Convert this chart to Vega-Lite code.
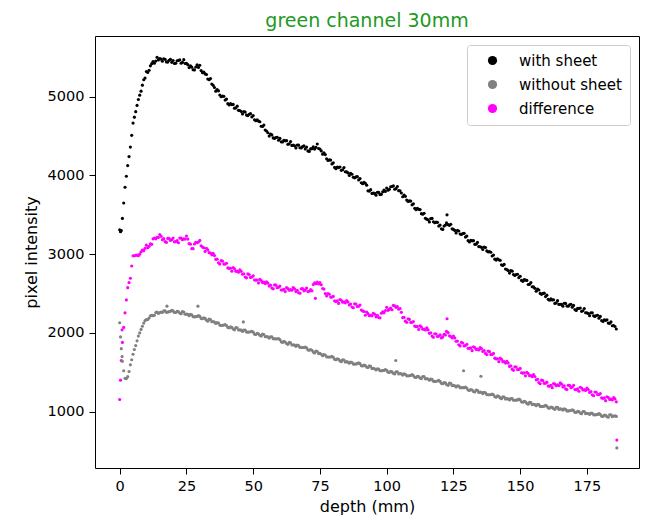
{
  "$schema": "https://vega.github.io/schema/vega-lite/v6.json",
  "autosize": "none",
  "padding": {"left": 95, "top": 36, "right": 7, "bottom": 51},
  "width": 544,
  "height": 432,
  "background": "white",
  "title": {"text": "green channel 30mm", "color": "#229922", "font": "DejaVu Sans", "fontSize": 19, "fontWeight": "normal", "anchor": "middle", "offset": 5},
  "config": {
    "view": {"stroke": "#000000", "strokeWidth": 1},
    "axis": {"domain": false, "grid": false, "tickColor": "#000000", "tickSize": 6, "labelFont": "DejaVu Sans", "labelFontSize": 14.5, "labelColor": "#000000", "titleFont": "DejaVu Sans", "titleFontSize": 16, "titleFontWeight": "normal", "titleColor": "#000000", "labelPadding": 5}
  },
  "data": {"values": [
    {"x":0,"a":3310,"b":2130,"d":1155},
    {"x":0.3,"a":3285,"b":1950,"d":1400},
    {"x":0.6,"a":3300,"b":1800,"d":1650},
    {"x":0.9,"b":1700,"d":2040},
    {"x":1,"a":3455,"b":1640,"d":1880},
    {"x":1.5,"a":3650,"b":1520,"d":2070},
    {"x":2,"a":3850,"b":1425,"d":2255},
    {"x":2.5,"a":3990,"b":1420,"d":2420},
    {"x":3,"a":4125,"b":1445,"d":2575},
    {"x":3.5,"a":4240,"b":1510,"d":2640},
    {"x":4,"a":4360,"b":1595,"d":2695},
    {"x":4.5,"a":4510,"b":1660,"d":2850},
    {"x":5,"a":4665,"b":1730,"d":2980},
    {"x":5.5,"a":4740,"b":1790,"d":2980},
    {"x":6,"a":4810,"b":1840,"d":2985},
    {"x":6.5,"a":4890,"b":1900,"d":2990},
    {"x":7,"a":4965,"b":1960,"d":2980},
    {"x":7.5,"a":5020,"b":2000,"d":3000},
    {"x":8,"a":5070,"b":2045,"d":3030},
    {"x":8.5,"a":5147,"b":2085,"d":3052},
    {"x":9,"a":5215,"b":2125,"d":3045},
    {"x":9.5,"a":5237,"b":2157,"d":3075},
    {"x":10,"a":5320,"b":2170,"d":3115},
    {"x":10.5,"a":5307,"b":2170,"d":3082},
    {"x":11,"a":5335,"b":2190,"d":3100},
    {"x":11.5,"a":5392,"b":2217,"d":3132},
    {"x":12,"a":5420,"b":2225,"d":3125},
    {"x":12.5,"a":5447,"b":2220,"d":3195},
    {"x":13,"a":5425,"b":2225,"d":3205},
    {"x":13.5,"a":5452,"b":2260,"d":3195},
    {"x":14,"a":5500,"b":2265,"d":3215},
    {"x":14.5,"a":5467,"b":2247,"d":3212},
    {"x":15,"a":5485,"b":2260,"d":3250},
    {"x":15.5,"a":5477,"b":2265,"d":3227},
    {"x":16,"a":5450,"b":2260,"d":3185},
    {"x":16.5,"a":5482,"b":2280,"d":3197},
    {"x":17,"a":5475,"b":2280,"d":3160},
    {"x":17.5,"a":5442,"b":2262,"d":3150},
    {"x":17.7,"b":2340},
    {"x":18,"a":5440,"b":2265,"d":3200},
    {"x":18.5,"a":5462,"b":2270,"d":3202},
    {"x":19,"a":5475,"b":2275,"d":3175},
    {"x":19.5,"a":5437,"b":2287,"d":3185},
    {"x":20,"a":5460,"b":2280,"d":3205},
    {"x":20.5,"a":5422,"b":2260,"d":3157},
    {"x":21,"a":5425,"b":2260,"d":3160},
    {"x":21.5,"a":5457,"b":2275,"d":3172},
    {"x":22,"a":5460,"b":2270,"d":3145},
    {"x":22.5,"a":5467,"b":2252,"d":3205},
    {"x":23,"a":5425,"b":2245,"d":3205},
    {"x":23.5,"a":5437,"b":2270,"d":3185},
    {"x":24,"a":5470,"b":2265,"d":3195},
    {"x":24.5,"a":5422,"b":2237,"d":3192},
    {"x":25,"a":5425,"b":2240,"d":3230},
    {"x":25.5,"a":5407,"b":2235,"d":3192},
    {"x":26,"a":5370,"b":2220,"d":3135},
    {"x":26.5,"a":5392,"b":2235,"d":3127},
    {"x":27,"a":5375,"b":2230,"d":3070},
    {"x":27.5,"a":5342,"b":2207,"d":3070},
    {"x":28,"a":5340,"b":2205,"d":3130},
    {"x":28.5,"a":5377,"b":2207,"d":3152},
    {"x":29,"a":5405,"b":2210,"d":3145},
    {"x":29.3,"b":2340},
    {"x":29.5,"a":5372,"b":2220,"d":3155},
    {"x":30,"a":5400,"b":2210,"d":3175},
    {"x":30.5,"a":5332,"b":2185,"d":3107},
    {"x":31,"a":5305,"b":2180,"d":3090},
    {"x":31.5,"a":5312,"b":2192,"d":3082},
    {"x":32,"a":5290,"b":2185,"d":3035},
    {"x":32.5,"a":5282,"b":2162,"d":3075},
    {"x":33,"a":5225,"b":2150,"d":3055},
    {"x":33.5,"a":5217,"b":2175,"d":3020},
    {"x":34,"a":5230,"b":2170,"d":3015},
    {"x":34.5,"a":5162,"b":2142,"d":2992},
    {"x":35,"a":5145,"b":2145,"d":3010},
    {"x":35.5,"a":5117,"b":2137,"d":2982},
    {"x":36,"a":5070,"b":2120,"d":2935},
    {"x":36.5,"a":5092,"b":2132,"d":2937},
    {"x":37,"a":5075,"b":2125,"d":2890},
    {"x":37.5,"a":5022,"b":2100,"d":2875},
    {"x":38,"a":5000,"b":2095,"d":2920},
    {"x":38.5,"a":5007,"b":2097,"d":2912},
    {"x":39,"a":5005,"b":2100,"d":2875},
    {"x":39.5,"a":4957,"b":2107,"d":2875},
    {"x":40,"a":4970,"b":2095,"d":2885},
    {"x":40.5,"a":4912,"b":2070,"d":2827},
    {"x":41,"a":4895,"b":2065,"d":2820},
    {"x":41.5,"a":4912,"b":2077,"d":2822},
    {"x":42,"a":4900,"b":2070,"d":2785},
    {"x":42.5,"a":4902,"b":2050,"d":2830},
    {"x":43,"a":4855,"b":2040,"d":2815},
    {"x":43.5,"a":4857,"b":2067,"d":2785},
    {"x":44,"a":4880,"b":2065,"d":2785},
    {"x":44.5,"a":4827,"b":2037,"d":2772},
    {"x":45,"a":4825,"b":2040,"d":2800},
    {"x":45.5,"a":4812,"b":2035,"d":2782},
    {"x":46,"a":4780,"b":2020,"d":2745},
    {"x":46.3,"b":2140},
    {"x":46.5,"a":4812,"b":2037,"d":2752},
    {"x":47,"a":4805,"b":2035,"d":2710},
    {"x":47.5,"a":4767,"b":2012,"d":2700},
    {"x":48,"a":4760,"b":2010,"d":2750},
    {"x":48.5,"a":4777,"b":2012,"d":2742},
    {"x":49,"a":4785,"b":2015,"d":2705},
    {"x":49.5,"a":4742,"b":2022,"d":2710},
    {"x":50,"a":4760,"b":2010,"d":2725},
    {"x":50.5,"a":4707,"b":1985,"d":2672},
    {"x":51,"a":4695,"b":1980,"d":2670},
    {"x":51.5,"a":4707,"b":1995,"d":2672},
    {"x":52,"a":4690,"b":1990,"d":2635},
    {"x":52.5,"a":4682,"b":1970,"d":2680},
    {"x":53,"a":4625,"b":1960,"d":2665},
    {"x":53.5,"a":4622,"b":1985,"d":2640},
    {"x":54,"a":4640,"b":1980,"d":2645},
    {"x":54.5,"a":4577,"b":1952,"d":2627},
    {"x":55,"a":4565,"b":1955,"d":2650},
    {"x":55.5,"a":4542,"b":1950,"d":2632},
    {"x":56,"a":4500,"b":1935,"d":2595},
    {"x":56.5,"a":4527,"b":1952,"d":2607},
    {"x":57,"a":4515,"b":1950,"d":2570},
    {"x":57.5,"a":4477,"b":1927,"d":2560},
    {"x":58,"a":4470,"b":1925,"d":2610},
    {"x":58.5,"a":4482,"b":1925,"d":2607},
    {"x":59,"a":4485,"b":1925,"d":2575},
    {"x":59.5,"a":4447,"b":1930,"d":2580},
    {"x":60,"a":4470,"b":1915,"d":2595},
    {"x":60.5,"a":4427,"b":1887,"d":2545},
    {"x":61,"a":4425,"b":1880,"d":2545},
    {"x":61.5,"a":4447,"b":1892,"d":2555},
    {"x":62,"a":4440,"b":1885,"d":2525},
    {"x":62.5,"a":4442,"b":1865,"d":2575},
    {"x":63,"a":4395,"b":1855,"d":2565},
    {"x":63.5,"a":4402,"b":1880,"d":2542},
    {"x":64,"a":4430,"b":1875,"d":2550},
    {"x":64.5,"a":4382,"b":1847,"d":2542},
    {"x":65,"a":4385,"b":1850,"d":2575},
    {"x":65.5,"a":4377,"b":1845,"d":2560},
    {"x":66,"a":4350,"b":1830,"d":2525},
    {"x":66.5,"a":4387,"b":1845,"d":2542},
    {"x":67,"a":4385,"b":1840,"d":2510},
    {"x":67.5,"a":4352,"b":1817,"d":2505},
    {"x":68,"a":4350,"b":1815,"d":2560},
    {"x":68.5,"a":4367,"b":1815,"d":2562},
    {"x":69,"a":4375,"b":1815,"d":2535},
    {"x":69.5,"a":4337,"b":1822,"d":2547},
    {"x":70,"a":4360,"b":1810,"d":2570},
    {"x":70.5,"a":4312,"b":1785,"d":2525},
    {"x":71,"a":4305,"b":1780,"d":2530},
    {"x":71.5,"a":4337,"b":1790,"d":2552},
    {"x":72,"a":4340,"b":1780,"d":2535},
    {"x":72.5,"a":4362,"b":1757,"d":2615},
    {"x":73,"a":4335,"b":1745,"d":2635},
    {"x":73.3,"d":2440},
    {"x":73.5,"a":4357,"b":1770,"d":2625},
    {"x":74,"a":4400,"b":1765,"d":2645},
    {"x":74.5,"a":4342,"b":1737,"d":2622},
    {"x":75,"a":4335,"b":1740,"d":2640},
    {"x":75.5,"a":4312,"b":1730,"d":2612},
    {"x":76,"a":4270,"b":1710,"d":2565},
    {"x":76.5,"a":4287,"b":1725,"d":2557},
    {"x":77,"a":4265,"b":1720,"d":2500},
    {"x":77.5,"a":4212,"b":1697,"d":2470},
    {"x":78,"a":4190,"b":1695,"d":2500},
    {"x":78.5,"a":4197,"b":1695,"d":2492},
    {"x":79,"a":4195,"b":1695,"d":2455},
    {"x":79.5,"a":4147,"b":1702,"d":2455},
    {"x":80,"a":4160,"b":1690,"d":2465},
    {"x":80.5,"a":4102,"b":1665,"d":2407},
    {"x":81,"a":4085,"b":1660,"d":2400},
    {"x":81.5,"a":4107,"b":1672,"d":2407},
    {"x":82,"a":4100,"b":1665,"d":2375},
    {"x":82.5,"a":4107,"b":1645,"d":2425},
    {"x":83,"a":4065,"b":1635,"d":2415},
    {"x":83.5,"a":4072,"b":1660,"d":2390},
    {"x":84,"a":4100,"b":1655,"d":2395},
    {"x":84.5,"a":4047,"b":1630,"d":2382},
    {"x":85,"a":4045,"b":1635,"d":2410},
    {"x":85.5,"a":4032,"b":1630,"d":2392},
    {"x":86,"a":4000,"b":1615,"d":2355},
    {"x":86.5,"a":4027,"b":1630,"d":2367},
    {"x":87,"a":4015,"b":1625,"d":2330},
    {"x":87.5,"a":3977,"b":1605,"d":2320},
    {"x":88,"a":3970,"b":1605,"d":2370},
    {"x":88.5,"a":3982,"b":1607,"d":2367},
    {"x":89,"a":3985,"b":1610,"d":2335},
    {"x":89.5,"a":3942,"b":1620,"d":2340},
    {"x":90,"a":3960,"b":1610,"d":2355},
    {"x":90.5,"a":3907,"b":1585,"d":2292},
    {"x":91,"a":3895,"b":1580,"d":2280},
    {"x":91.5,"a":3912,"b":1592,"d":2272},
    {"x":92,"a":3900,"b":1585,"d":2225},
    {"x":92.5,"a":3877,"b":1567,"d":2265},
    {"x":93,"a":3805,"b":1560,"d":2245},
    {"x":93.5,"a":3802,"b":1582,"d":2220},
    {"x":94,"a":3820,"b":1575,"d":2225},
    {"x":94.5,"a":3772,"b":1547,"d":2217},
    {"x":95,"a":3775,"b":1550,"d":2250},
    {"x":95.5,"a":3772,"b":1545,"d":2237},
    {"x":96,"a":3750,"b":1530,"d":2205},
    {"x":96.5,"a":3787,"b":1545,"d":2225},
    {"x":97,"a":3785,"b":1540,"d":2195},
    {"x":97.5,"a":3757,"b":1520,"d":2192},
    {"x":98,"a":3760,"b":1520,"d":2250},
    {"x":98.5,"a":3792,"b":1522,"d":2267},
    {"x":99,"a":3815,"b":1525,"d":2255},
    {"x":99.5,"a":3797,"b":1535,"d":2285},
    {"x":100,"a":3840,"b":1525,"d":2325},
    {"x":100.5,"a":3812,"b":1502,"d":2287},
    {"x":101,"a":3825,"b":1500,"d":2300},
    {"x":101.5,"a":3857,"b":1512,"d":2317},
    {"x":102,"a":3860,"b":1505,"d":2295},
    {"x":102.5,"a":3867,"b":1487,"d":2350},
    {"x":103,"a":3825,"b":1480,"d":2345},
    {"x":103.4,"b":1650},
    {"x":103.5,"a":3832,"b":1507,"d":2325},
    {"x":104,"a":3860,"b":1505,"d":2335},
    {"x":104.5,"a":3807,"b":1480,"d":2302},
    {"x":105,"a":3805,"b":1485,"d":2310},
    {"x":105.5,"a":3777,"b":1480,"d":2262},
    {"x":106,"a":3730,"b":1465,"d":2195},
    {"x":106.5,"a":3752,"b":1480,"d":2197},
    {"x":107,"a":3735,"b":1475,"d":2150},
    {"x":107.5,"a":3687,"b":1455,"d":2135},
    {"x":108,"a":3670,"b":1455,"d":2180},
    {"x":108.5,"a":3677,"b":1457,"d":2172},
    {"x":109,"a":3675,"b":1460,"d":2135},
    {"x":109.5,"a":3627,"b":1470,"d":2135},
    {"x":110,"a":3640,"b":1460,"d":2145},
    {"x":110.5,"a":3582,"b":1437,"d":2087},
    {"x":111,"a":3565,"b":1435,"d":2080},
    {"x":111.5,"a":3582,"b":1450,"d":2082},
    {"x":112,"a":3570,"b":1445,"d":2045},
    {"x":112.5,"a":3567,"b":1427,"d":2090},
    {"x":113,"a":3515,"b":1420,"d":2075},
    {"x":113.5,"a":3507,"b":1447,"d":2047},
    {"x":114,"a":3520,"b":1445,"d":2050},
    {"x":114.5,"a":3457,"b":1417,"d":2037},
    {"x":115,"a":3445,"b":1420,"d":2065},
    {"x":115.5,"a":3437,"b":1415,"d":2040},
    {"x":116,"a":3410,"b":1400,"d":1995},
    {"x":116.5,"a":3452,"b":1415,"d":2002},
    {"x":117,"a":3455,"b":1410,"d":1960},
    {"x":117.5,"a":3412,"b":1387,"d":1945},
    {"x":118,"a":3400,"b":1385,"d":1990},
    {"x":118.5,"a":3407,"b":1387,"d":1987},
    {"x":119,"a":3405,"b":1390,"d":1955},
    {"x":119.5,"a":3357,"b":1397,"d":1960},
    {"x":120,"a":3370,"b":1385,"d":1975},
    {"x":120.5,"a":3322,"b":1360,"d":1937},
    {"x":121,"a":3315,"b":1355,"d":1950},
    {"x":121.5,"a":3357,"b":1370,"d":1982},
    {"x":122,"a":3370,"b":1365,"d":1975},
    {"x":122.4,"a":3397,"b":1345,"d":2020},
    {"x":122.6,"a":3500,"d":2180},
    {"x":123,"a":3375,"b":1335,"d":2005},
    {"x":123.5,"a":3367,"b":1362,"d":1965},
    {"x":124,"a":3380,"b":1360,"d":1955},
    {"x":124.5,"a":3322,"b":1332,"d":1937},
    {"x":125,"a":3315,"b":1335,"d":1960},
    {"x":125.5,"a":3302,"b":1330,"d":1937},
    {"x":126,"a":3270,"b":1315,"d":1895},
    {"x":126.5,"a":3302,"b":1330,"d":1897},
    {"x":127,"a":3295,"b":1325,"d":1850},
    {"x":127.5,"a":3257,"b":1305,"d":1835},
    {"x":128,"a":3250,"b":1305,"d":1880},
    {"x":128.5,"a":3262,"b":1305,"d":1872},
    {"x":128.8,"b":1520},
    {"x":129,"a":3265,"b":1305,"d":1835},
    {"x":129.5,"a":3217,"b":1312,"d":1840},
    {"x":130,"a":3230,"b":1300,"d":1855},
    {"x":130.5,"a":3172,"b":1275,"d":1805},
    {"x":131,"a":3155,"b":1270,"d":1805},
    {"x":131.5,"a":3177,"b":1282,"d":1810},
    {"x":132,"a":3170,"b":1275,"d":1775},
    {"x":132.5,"a":3172,"b":1257,"d":1825},
    {"x":133,"a":3125,"b":1250,"d":1815},
    {"x":133.5,"a":3127,"b":1275,"d":1790},
    {"x":134,"a":3150,"b":1270,"d":1795},
    {"x":134.5,"a":3097,"b":1245,"d":1785},
    {"x":135,"a":3095,"b":1250,"d":1815},
    {"x":135.3,"b":1450},
    {"x":135.5,"a":3087,"b":1245,"d":1800},
    {"x":136,"a":3060,"b":1230,"d":1765},
    {"x":136.5,"a":3092,"b":1245,"d":1777},
    {"x":137,"a":3085,"b":1240,"d":1740},
    {"x":137.5,"a":3042,"b":1217,"d":1725},
    {"x":138,"a":3030,"b":1215,"d":1770},
    {"x":138.5,"a":3032,"b":1215,"d":1762},
    {"x":139,"a":3025,"b":1215,"d":1725},
    {"x":139.5,"a":2977,"b":1225,"d":1727},
    {"x":140,"a":2990,"b":1215,"d":1740},
    {"x":140.5,"a":2937,"b":1190,"d":1680},
    {"x":141,"a":2925,"b":1185,"d":1670},
    {"x":141.5,"a":2942,"b":1200,"d":1672},
    {"x":142,"a":2930,"b":1195,"d":1635},
    {"x":142.5,"a":2922,"b":1175,"d":1680},
    {"x":143,"a":2865,"b":1165,"d":1665},
    {"x":143.5,"a":2857,"b":1190,"d":1635},
    {"x":144,"a":2870,"b":1185,"d":1635},
    {"x":144.5,"a":2812,"b":1160,"d":1617},
    {"x":145,"a":2805,"b":1165,"d":1640},
    {"x":145.5,"a":2792,"b":1162,"d":1617},
    {"x":146,"a":2760,"b":1150,"d":1575},
    {"x":146.5,"a":2792,"b":1167,"d":1582},
    {"x":147,"a":2785,"b":1165,"d":1540},
    {"x":147.5,"a":2742,"b":1145,"d":1525},
    {"x":148,"a":2730,"b":1145,"d":1570},
    {"x":148.5,"a":2742,"b":1147,"d":1567},
    {"x":149,"a":2745,"b":1150,"d":1535},
    {"x":149.5,"a":2702,"b":1160,"d":1537},
    {"x":150,"a":2720,"b":1150,"d":1550},
    {"x":150.5,"a":2667,"b":1125,"d":1495},
    {"x":151,"a":2655,"b":1120,"d":1490},
    {"x":151.5,"a":2677,"b":1132,"d":1492},
    {"x":152,"a":2670,"b":1125,"d":1455},
    {"x":152.5,"a":2667,"b":1105,"d":1500},
    {"x":153,"a":2615,"b":1095,"d":1485},
    {"x":153.5,"a":2617,"b":1120,"d":1457},
    {"x":154,"a":2640,"b":1115,"d":1460},
    {"x":154.5,"a":2587,"b":1090,"d":1445},
    {"x":155,"a":2585,"b":1095,"d":1470},
    {"x":155.5,"a":2567,"b":1090,"d":1447},
    {"x":156,"a":2530,"b":1075,"d":1405},
    {"x":156.5,"a":2557,"b":1092,"d":1412},
    {"x":157,"a":2545,"b":1090,"d":1370},
    {"x":157.5,"a":2502,"b":1067,"d":1355},
    {"x":158,"a":2490,"b":1065,"d":1400},
    {"x":158.5,"a":2502,"b":1067,"d":1395},
    {"x":159,"a":2505,"b":1070,"d":1360},
    {"x":159.5,"a":2462,"b":1080,"d":1362},
    {"x":160,"a":2480,"b":1070,"d":1375},
    {"x":160.5,"a":2427,"b":1047,"d":1325},
    {"x":161,"a":2415,"b":1045,"d":1325},
    {"x":161.5,"a":2432,"b":1060,"d":1335},
    {"x":162,"a":2420,"b":1055,"d":1305},
    {"x":162.5,"a":2422,"b":1037,"d":1357},
    {"x":163,"a":2375,"b":1030,"d":1350},
    {"x":163.5,"a":2382,"b":1057,"d":1330},
    {"x":164,"a":2410,"b":1055,"d":1340},
    {"x":164.5,"a":2362,"b":1030,"d":1332},
    {"x":165,"a":2365,"b":1035,"d":1365},
    {"x":165.5,"a":2362,"b":1032,"d":1350},
    {"x":166,"a":2340,"b":1020,"d":1315},
    {"x":166.5,"a":2377,"b":1035,"d":1327},
    {"x":167,"a":2375,"b":1030,"d":1290},
    {"x":167.5,"a":2342,"b":1010,"d":1282},
    {"x":168,"a":2340,"b":1010,"d":1335},
    {"x":168.5,"a":2357,"b":1012,"d":1335},
    {"x":169,"a":2365,"b":1015,"d":1305},
    {"x":169.5,"a":2327,"b":1025,"d":1315},
    {"x":170,"a":2350,"b":1015,"d":1335},
    {"x":170.5,"a":2297,"b":992,"d":1282},
    {"x":171,"a":2285,"b":990,"d":1280},
    {"x":171.5,"a":2312,"b":1005,"d":1290},
    {"x":172,"a":2310,"b":1000,"d":1260},
    {"x":172.5,"a":2317,"b":982,"d":1310},
    {"x":173,"a":2275,"b":975,"d":1300},
    {"x":173.5,"a":2282,"b":1002,"d":1275},
    {"x":174,"a":2310,"b":1000,"d":1280},
    {"x":174.5,"a":2257,"b":975,"d":1270},
    {"x":175,"a":2255,"b":980,"d":1300},
    {"x":175.5,"a":2247,"b":977,"d":1282},
    {"x":176,"a":2220,"b":965,"d":1245},
    {"x":176.5,"a":2257,"b":982,"d":1255},
    {"x":177,"a":2255,"b":980,"d":1215},
    {"x":177.5,"a":2217,"b":960,"d":1202},
    {"x":178,"a":2210,"b":960,"d":1250},
    {"x":178.5,"a":2222,"b":962,"d":1247},
    {"x":179,"a":2225,"b":965,"d":1215},
    {"x":179.5,"a":2187,"b":975,"d":1217},
    {"x":180,"a":2210,"b":965,"d":1230},
    {"x":180.5,"a":2157,"b":942,"d":1175},
    {"x":181,"a":2145,"b":940,"d":1170},
    {"x":181.5,"a":2167,"b":957,"d":1175},
    {"x":182,"a":2160,"b":955,"d":1140},
    {"x":182.5,"a":2167,"b":937,"d":1190},
    {"x":183,"a":2125,"b":930,"d":1180},
    {"x":183.5,"a":2122,"b":960,"d":1155},
    {"x":184,"a":2140,"b":960,"d":1160},
    {"x":184.5,"a":2092,"b":937,"d":1150},
    {"x":185,"a":2095,"b":945,"d":1180},
    {"x":185.5,"a":2082,"b":947,"d":1162},
    {"x":186,"a":2050,"b":940,"d":1125},
    {"x":186.2,"b":540,"d":640}
  ]},
  "transform": [
    {"fold": ["a", "b", "d"], "as": ["series", "value"]},
    {"filter": "isValid(datum.value)"}
  ],
  "mark": {"type": "point", "filled": true, "size": 10, "opacity": 1, "strokeWidth": 0},
  "encoding": {
    "x": {"field": "x", "type": "quantitative", "scale": {"domain": [-9.25, 194.5], "nice": false, "zero": false}, "axis": {"values": [0, 25, 50, 75, 100, 125, 150, 175], "title": "depth (mm)", "titlePadding": 6}},
    "y": {"field": "value", "type": "quantitative", "scale": {"domain": [285, 5771], "nice": false, "zero": false}, "axis": {"values": [1000, 2000, 3000, 4000, 5000], "format": "d", "title": "pixel intensity", "titlePadding": 8}},
    "color": {"field": "series", "type": "nominal", "scale": {"domain": ["a", "b", "d"], "range": ["#000000", "#808080", "#ff00ff"]},
      "legend": {"title": null, "orient": "none", "legendX": 372, "legendY": 9, "labelExpr": "{'a':'with sheet','b':'without sheet','d':'difference'}[datum.label]", "symbolType": "circle", "symbolSize": 85, "symbolStrokeWidth": 0, "symbolOffset": 10, "labelFont": "DejaVu Sans", "labelFontSize": 15, "labelColor": "#000000", "labelOffset": 19, "rowPadding": 8, "padding": 8, "strokeColor": "#cccccc", "fillColor": "rgba(255,255,255,0.8)", "cornerRadius": 3}}
  }
}
